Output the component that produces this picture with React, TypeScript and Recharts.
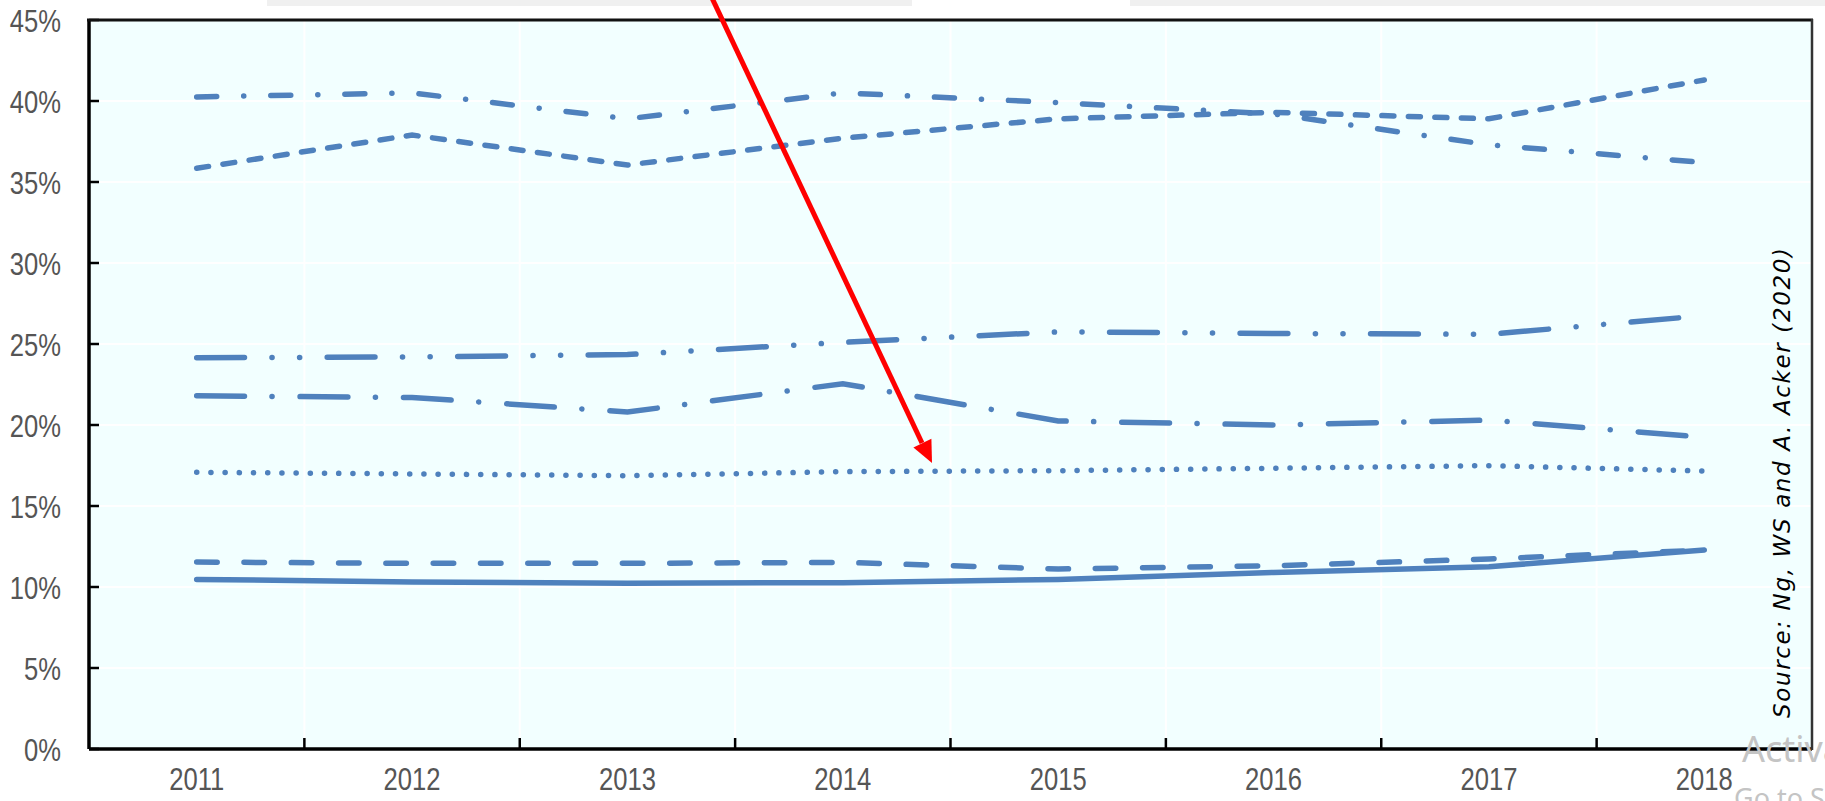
import { LineChart, Line, XAxis, YAxis, CartesianGrid } from 'recharts'

const years = ['2011', '2012', '2013', '2014', '2015', '2016', '2017', '2018']

// one array per line, top to bottom as they sit in the plot
const dashDotTop = [40.25, 40.5, 38.9, 40.5, 39.9, 39.2, 37.3, 36.2]
const dashedTop = [35.85, 37.9, 36.05, 37.7, 38.9, 39.3, 38.9, 41.3]
const dashDotDot = [24.15, 24.2, 24.35, 25.1, 25.75, 25.65, 25.6, 26.75]
const dashDotMid = [21.8, 21.7, 20.8, 22.55, 20.25, 20.0, 20.3, 19.25]
const dotted = [17.08, 16.98, 16.87, 17.12, 17.18, 17.33, 17.49, 17.16]
const dashedLow = [11.54, 11.46, 11.46, 11.52, 11.11, 11.31, 11.73, 12.28]
const solid = [10.47, 10.31, 10.23, 10.27, 10.47, 10.9, 11.25, 12.28]

const yTicks = [0, 5, 10, 15, 20, 25, 30, 35, 40, 45]

const data = years.map((year, i) => ({
  year,
  a: dashDotTop[i],
  b: dashedTop[i],
  c: dashDotDot[i],
  d: dashDotMid[i],
  e: dotted[i],
  f: dashedLow[i],
  g: solid[i],
}))

const W = 1825
const H = 801
const TOP = 20
const RIGHT = 13
const Y_AXIS_W = 89
const X_AXIS_H = 52
const PLOT_LEFT = Y_AXIS_W
const PLOT_RIGHT = W - RIGHT
const PLOT_BOTTOM = H - X_AXIS_H
const BAND = (PLOT_RIGHT - PLOT_LEFT) / years.length

const BLUE = '#4F81BD'
const LABEL = '#555555'
const FONT = "'Liberation Sans', Arial, sans-serif"

function YTick(props: any) {
  const { x, y, payload } = props
  return (
    <g>
      <g transform={`translate(${x},${y + 12})`}>
        <text transform="scale(0.8,1)" textAnchor="end" fontFamily={FONT} fontSize={32} fill={LABEL}>
          {payload.value}%
        </text>
      </g>
      <line x1={PLOT_LEFT} x2={PLOT_LEFT + 10} y1={y} y2={y} stroke="#000" strokeWidth={2.5} />
    </g>
  )
}

function XTick(props: any) {
  const { x, payload, index } = props
  return (
    <g>
      <g transform={`translate(${x},${PLOT_BOTTOM + 41})`}>
        <text transform="scale(0.8,1)" textAnchor="middle" fontFamily={FONT} fontSize={32} fill={LABEL}>
          {payload.value}
        </text>
      </g>
      {index < years.length - 1 && (
        <line
          x1={x + BAND / 2}
          x2={x + BAND / 2}
          y1={PLOT_BOTTOM}
          y2={PLOT_BOTTOM - 11}
          stroke="#000"
          strokeWidth={2.5}
        />
      )}
    </g>
  )
}

const lineProps = {
  stroke: BLUE,
  strokeWidth: 5.5,
  strokeLinecap: 'round' as const,
  type: 'linear' as const,
  dot: false,
  activeDot: false,
  isAnimationActive: false,
}

export default function App() {
  const vGrid = years.slice(1).map((_, i) => PLOT_LEFT + (i + 1) * BAND)
  return (
    <div style={{ position: 'absolute', left: 0, top: 0, width: W, height: H, background: '#fff', overflow: 'hidden' }}>
      <LineChart width={W} height={H} data={data} margin={{ top: TOP, right: RIGHT, left: 0, bottom: 0 }}>
        <CartesianGrid
          fill="#F2FFFF"
          stroke="#ffffff"
          strokeWidth={2}
          verticalCoordinatesGenerator={() => vGrid}
        />
        <XAxis
          dataKey="year"
          height={X_AXIS_H}
          interval={0}
          padding={{ left: BAND / 2, right: BAND / 2 }}
          tickSize={0}
          tickMargin={0}
          tickLine={false}
          axisLine={{ stroke: '#000', strokeWidth: 3.5 }}
          tick={<XTick />}
        />
        <YAxis
          width={Y_AXIS_W}
          domain={[0, 45]}
          ticks={yTicks}
          interval={0}
          tickSize={0}
          tickMargin={28}
          tickLine={false}
          axisLine={{ stroke: '#000', strokeWidth: 3.5 }}
          tick={<YTick />}
        />
        <Line dataKey="a" {...lineProps} strokeDasharray="20 27 0.1 27" />
        <Line dataKey="b" {...lineProps} strokeDasharray="12 14.5" />
        <Line dataKey="c" {...lineProps} strokeDasharray="47.8 27.5 0.1 27.5 0.1 27.5" />
        <Line dataKey="d" {...lineProps} strokeDasharray="47.8 27.5 0.1 28" />
        <Line dataKey="e" {...lineProps} strokeDasharray="0.1 14.1" />
        <Line dataKey="f" {...lineProps} strokeDasharray="20.5 26.8" />
        <Line dataKey="g" {...lineProps} />
      </LineChart>
      <svg
        width={W}
        height={H}
        style={{ position: 'absolute', left: 0, top: 0, pointerEvents: 'none' }}
      >
        <rect x={267} y={0} width={645} height={6} fill="#F0F0F0" />
        <rect x={1130} y={0} width={695} height={6} fill="#F0F0F0" />
        <line x1={PLOT_LEFT - 2} x2={PLOT_RIGHT + 1} y1={TOP} y2={TOP} stroke="#111" strokeWidth={3} />
        <line x1={PLOT_RIGHT} x2={PLOT_RIGHT} y1={TOP - 1} y2={PLOT_BOTTOM + 1} stroke="#333" strokeWidth={2.5} />
        <text
          transform="translate(1790,483) rotate(-90)"
          textAnchor="middle"
          fontFamily="'DejaVu Sans', sans-serif"
          fontStyle="italic"
          fontSize={23}
          textLength={470}
          lengthAdjust="spacing"
          fill="#000"
        >
          Source: Ng, WS and A. Acker (2020)
        </text>
        <line x1={712} y1={-2} x2={922} y2={443} stroke="#FF0000" strokeWidth={5} />
        <polygon points="932,463 931.4,438.8 913.4,447.6" fill="#FF0000" />
        <text x={1742} y={762} fontFamily="'Noto Sans', sans-serif" fontSize={36} fill="#c4c4c4">
          Activate Windows
        </text>
        <text x={1734} y={808} fontFamily="'Noto Sans', sans-serif" fontSize={27} fill="#c4c4c4">
          Go to Settings to activate Windows.
        </text>
      </svg>
    </div>
  )
}
